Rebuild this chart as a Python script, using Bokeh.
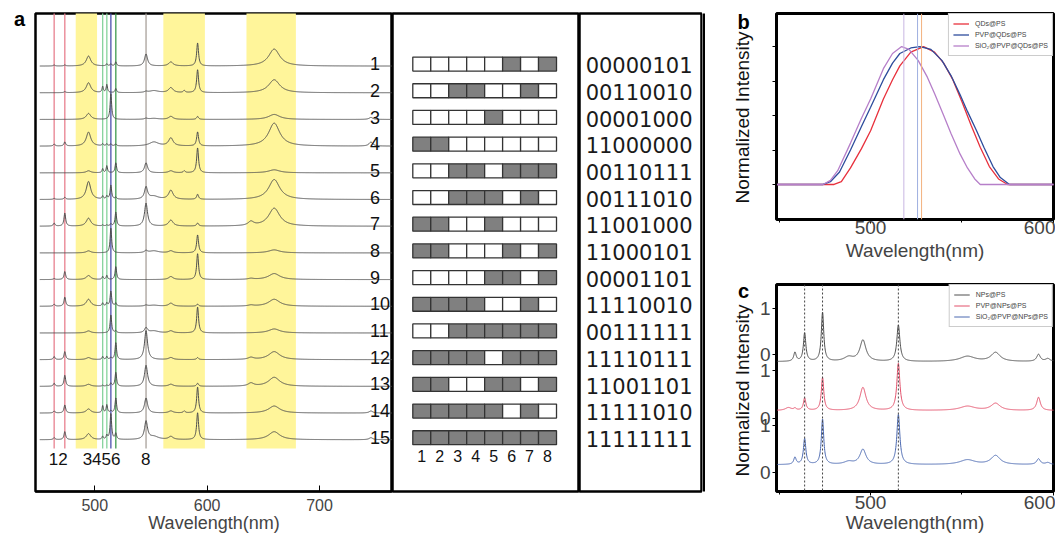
import numpy as np
from bokeh.plotting import figure
from bokeh.layouts import row, column
from bokeh.models import FixedTicker, Legend, LegendItem, Range1d, Span
from bokeh.core.properties import value
from bokeh.embed import file_html
from bokeh.resources import INLINE

SANS = "Liberation Sans"
PAGE_H = 536
FRAME_TOP, FRAME_BOTTOM = 13, 491

# ---------------- panel a data ----------------
peak_nm = [463.8, 473.3, 494.4, 507.0, 510.7, 514.3, 518.7, 545.6, 552.6, 567.7, 579.6, 591.5, 639.0, 659.7, 745.8]
peak_hwhm = [0.9, 0.9, 2.4, 0.7, 0.7, 0.8, 0.8, 1.6, 5.0, 2.4, 1.0, 1.0, 3.0, 6.0, 2.0]

spec_01 = [1, 1, 10, 0, 2, 2, 4, 12, 0, 4, 0, 23, 0, 17, 0]
spec_02 = [0, 1, 10, 6, 8, 0, 4, 1, 2, 5, 2, 23, 0, 13, 0]
spec_03 = [0, 0, 6, 0, 0, 26, 0, 1, 1, 3, 0, 3, 0, 5, 2]
spec_04 = [2, 4, 14, 2, 2, 2, 2, 0, 4, 8, 0, 14, 0, 23, 4]
spec_05 = [0, 0, 2, 4, 7, 0, 10, 10, 0, 2, 2, 25, 0, 3, 0]
spec_06 = [1, 2, 18, 3, 3, 14, 2, 12, 3, 9, 0, 5, 0, 20, 0]
spec_07 = [3, 13, 8, 1, 1, 2, 14, 23, 0, 6, 0, 3, 4, 18, 0]
spec_08 = [0, 0, 2, 0, 0, 25, 0, 2, 2, 2, 0, 18, 0, 3, 0]
spec_09 = [1, 8, 4, 3, 4, 0, 13, 0, 0, 3, 0, 26, 1, 6, 0]
spec_10 = [2, 9, 7, 3, 3, 15, 3, 1, 1, 3, 0, 2, 1, 7, 0]
spec_11 = [0, 0, 2, 0, 0, 18, 2, 5, 2, 2, 0, 26, 0, 4, 0]
spec_12 = [3, 8, 2, 3, 3, 2, 17, 29, 0, 2, 0, 2, 2, 8, 0]
spec_13 = [3, 11, 2, 1, 1, 3, 14, 21, 0, 2, 0, 3, 3, 9, 0]
spec_14 = [2, 8, 4, 7, 8, 2, 15, 15, 0, 2, 2, 26, 0, 7, 2]
spec_15 = [2, 8, 6, 3, 4, 26, 6, 18, 3, 3, 0, 27, 0, 8, 2]
spectra = [spec_01, spec_02, spec_03, spec_04, spec_05, spec_06, spec_07, spec_08,
           spec_09, spec_10, spec_11, spec_12, spec_13, spec_14, spec_15]
trace_labels = ["1", "2", "3", "4", "5", "6", "7", "8", "9", "10", "11", "12", "13", "14", "15"]

codes = ["00000101", "00110010", "00001000", "11000000", "00110111", "00111010", "11001000",
         "11000101", "00001101", "11110010", "00111111", "11110111", "11001101", "11111010", "11111111"]
code_positions = ["1", "2", "3", "4", "5", "6", "7", "8"]

band_lo = [483, 561, 635]
band_hi = [502, 598, 679]
marker_nm = [463.8, 473.3, 507.0, 510.7, 514.3, 518.7, 545.6]
marker_color = ["#e8808f", "#e8808f", "#86d39c", "#86d39c", "#4b4fae", "#3e9a4e", "#a8a09a"]
marker_text = ["12", "3456", "8"]
marker_text_nm = [467.5, 506.0, 545.4]

# ---------------- panel b data ----------------
b_red_nm = [448, 480, 484, 489, 495, 500, 507, 512, 516, 522, 529, 535, 540, 545, 550, 555, 560, 565, 570, 575, 601]
b_red_y = [0, 0, 0.02, 0.12, 0.26, 0.39, 0.62, 0.76, 0.86, 0.96, 1.0, 0.96, 0.88, 0.76, 0.60, 0.43, 0.27, 0.13, 0.04, 0, 0]
b_blue_nm = [448, 474, 478, 483, 489, 495, 500, 507, 512, 516, 522, 527, 533, 539, 544, 549, 553, 558, 562, 567, 571, 576, 601]
b_blue_y = [0, 0, 0.02, 0.09, 0.25, 0.42, 0.56, 0.76, 0.88, 0.95, 0.99, 1.0, 0.98, 0.90, 0.79, 0.65, 0.53, 0.39, 0.27, 0.13, 0.05, 0, 0]
b_purple_nm = [448, 474, 478, 482, 489, 495, 500, 507, 512, 517, 521, 526, 531, 535, 540, 544, 549, 553, 557, 560, 601]
b_purple_y = [0, 0, 0.03, 0.10, 0.30, 0.48, 0.62, 0.84, 0.95, 1.0, 0.98, 0.90, 0.78, 0.66, 0.50, 0.37, 0.22, 0.12, 0.04, 0, 0]
b_names = ["QDs@PS", "PVP@QDs@PS", "SiO\u2082@PVP@QDs@PS"]
b_peak_lines = [518.2, 525.7, 527.9]

# ---------------- panel c data ----------------
c_peak_nm = [455.0, 458.6, 463.9, 473.7, 488.0, 495.8, 515.2, 553.0, 568.4, 591.9, 597.0]
c_peak_hwhm = [2.0, 0.8, 0.8, 0.8, 3.0, 2.0, 1.0, 5.0, 3.0, 1.2, 1.5]
c_nps = [0.0, 0.19, 0.60, 1.04, 0.09, 0.45, 0.77, 0.11, 0.19, 0.15, 0.06]
c_pvp = [0.06, 0.04, 0.26, 0.70, 0.0, 0.49, 1.00, 0.09, 0.15, 0.28, 0.0]
c_sio2 = [0.0, 0.15, 0.55, 0.96, 0.06, 0.32, 1.06, 0.10, 0.19, 0.12, 0.04]
c_names = ["NPs@PS", "PVP@NPs@PS", "SiO\u2082@PVP@NPs@PS"]
c_marker_nm = [463.9, 473.7, 515.2]
c_tick_vals = [0, 1.0, 1.15, 2.17, 2.51, 3.49]
c_tick_text = ["0", "1", "0", "1", "0", "1"]

panel_letters = ["a", "b", "c"]
y_title = "Normalized Intensity"


def lorentz(wl, centers, widths, heights):
    out = np.zeros_like(wl)
    for c, w, h in zip(centers, widths, heights):
        out += h / (1.0 + ((wl - c) / w) ** 2)
    return out


def clean(p):
    p.grid.visible = False
    p.background_fill_color = "white"
    p.border_fill_color = "white"


def strip(width, x0):
    # frame shares the row's aligned frame: page rows FRAME_TOP..FRAME_BOTTOM
    s = figure(width=width, height=PAGE_H, x_range=Range1d(x0, x0 + width),
               y_range=Range1d(PAGE_H - FRAME_BOTTOM, PAGE_H - FRAME_TOP),
               output_backend="svg", toolbar_location=None,
               x_axis_location=None, y_axis_location=None,
               min_border_left=0, min_border_right=0,
               min_border_top=FRAME_TOP, min_border_bottom=PAGE_H - FRAME_BOTTOM)
    clean(s)
    s.outline_line_color = None
    return s


ROW_PX = 26.7
yr = Range1d(-1.94, 15.97)

# ---------------- letter strip for a ----------------
sa = strip(33, 0)
sa.text(x=[19], y=[PAGE_H - 18], text=[panel_letters[0]], text_font=value(SANS),
        text_font_size="20px", text_font_style="bold", text_align="center",
        text_baseline="middle", text_color="black")

# ---------------- a1: spectra ----------------
p1 = figure(width=359, height=PAGE_H, x_range=Range1d(447.2, 765.0), y_range=yr,
            output_backend="svg", toolbar_location=None, y_axis_location=None,
            min_border_left=2, min_border_right=0, min_border_top=FRAME_TOP,
            min_border_bottom=PAGE_H - FRAME_BOTTOM)
clean(p1)
p1.outline_line_color = "black"
p1.outline_line_width = 2.5
p1.quad(left=band_lo, right=band_hi, bottom=-0.33, top=16.5, fill_color="#fff59a",
        line_color=None)
p1.segment(x0=marker_nm, x1=marker_nm, y0=[-0.33] * len(marker_nm), y1=[16.5] * len(marker_nm),
           line_color=marker_color, line_width=1.3)
wl = np.arange(451.0, 765.0, 0.2)
for i, hs in enumerate(spectra):
    base = 14 - i
    p1.line(wl, base + lorentz(wl, peak_nm, peak_hwhm, hs) / ROW_PX, line_color="#4f4f4f",
            line_width=1)
p1.text(x=[745.0] * 15, y=[14 - i + 0.09 for i in range(15)], text=trace_labels,
        text_font=value(SANS), text_font_size="18px", text_align="left",
        text_baseline="alphabetic", text_color="#111111")
p1.text(x=marker_text_nm, y=[-0.74] * 3, text=marker_text, text_font=value(SANS),
        text_font_size="17px", text_align="center", text_baseline="middle", text_color="#111111")
p1.xaxis.ticker = FixedTicker(ticks=[500, 600, 700])
p1.xaxis.major_tick_in = 6
p1.xaxis.major_tick_out = 0
p1.xaxis.minor_tick_line_color = None
p1.xaxis.axis_line_width = 2
p1.xaxis.major_label_text_font = SANS
p1.xaxis.major_label_text_font_size = "16px"
p1.xaxis.major_label_standoff = 7
p1.xaxis.axis_label = "Wavelength(nm)"
p1.xaxis.axis_label_text_font = SANS
p1.xaxis.axis_label_text_font_size = "18px"
p1.xaxis.axis_label_text_font_style = "normal"
p1.xaxis.axis_label_standoff = -1

# ---------------- a2: barcodes ----------------
p2 = figure(width=187, height=PAGE_H, x_range=Range1d(-1.13, 9.28), y_range=yr,
            output_backend="svg", toolbar_location=None, x_axis_location=None,
            y_axis_location=None, min_border_left=0, min_border_right=0,
            min_border_top=FRAME_TOP, min_border_bottom=PAGE_H - FRAME_BOTTOM)
clean(p2)
p2.outline_line_color = "black"
p2.outline_line_width = 2.5
lefts, rights, bottoms, tops, fills = [], [], [], [], []
for i, code in enumerate(codes):
    c = 14 - i + 0.075
    for j, bit in enumerate(code):
        lefts.append(j)
        rights.append(j + 1)
        bottoms.append(c - 0.262)
        tops.append(c + 0.262)
        fills.append("#808080" if bit == "1" else "white")
p2.quad(left=lefts, right=rights, bottom=bottoms, top=tops, fill_color=fills,
        line_color="#333333", line_width=1.3)
p2.text(x=[j + 0.5 for j in range(8)], y=[-0.6] * 8, text=code_positions,
        text_font=value(SANS), text_font_size="16px", text_align="center",
        text_baseline="middle", text_color="#111111")

# ---------------- a3: codes ----------------
p3 = figure(width=123, height=PAGE_H, x_range=Range1d(0, 1), y_range=yr,
            output_backend="svg", toolbar_location=None, x_axis_location=None,
            y_axis_location=None, min_border_left=0, min_border_right=0,
            min_border_top=FRAME_TOP, min_border_bottom=PAGE_H - FRAME_BOTTOM)
clean(p3)
p3.outline_line_color = "black"
p3.outline_line_width = 2.5
p3.text(x=[0.05] * 15, y=[14 - i + 0.03 for i in range(15)], text=codes,
        text_font=value("DejaVu Sans"), text_font_size="21px", text_align="left",
        text_baseline="middle", text_color="#1a1a1a")

# ---------------- strip: right border of a, b / c letters and y titles ----------------
sbc = strip(54, 702)
sbc.segment(x0=[702], x1=[702], y0=[PAGE_H - FRAME_BOTTOM - 1], y1=[PAGE_H - FRAME_TOP + 1],
            line_color="black", line_width=5)
sbc.text(x=[743, 743], y=[PAGE_H - 21, PAGE_H - 290], text=panel_letters[1:],
         text_font=value(SANS), text_font_size="20px", text_font_style="bold",
         text_align="center", text_baseline="middle", text_color="black")
sbc.text(x=[742, 742], y=[PAGE_H - 117, PAGE_H - 390], text=[y_title, y_title],
         angle=np.pi / 2, text_font=value(SANS), text_font_size="19px",
         text_align="center", text_baseline="middle", text_color="#111111")


def style_small(p):
    clean(p)
    p.outline_line_color = "black"
    p.outline_line_width = 3
    p.xaxis.ticker = FixedTicker(ticks=[500, 600], minor_ticks=[450, 550])
    p.xaxis.major_tick_in = 0
    p.xaxis.major_tick_out = 4
    p.xaxis.minor_tick_in = 0
    p.xaxis.minor_tick_out = 3
    p.xaxis.major_label_text_font = SANS
    p.xaxis.major_label_text_font_size = "19px"
    p.xaxis.axis_label = "Wavelength(nm)"
    p.xaxis.axis_label_text_font = SANS
    p.xaxis.axis_label_text_font_size = "19px"
    p.xaxis.axis_label_text_font_style = "normal"
    p.yaxis.major_tick_in = 0
    p.yaxis.major_tick_out = 4
    p.yaxis.minor_tick_line_color = None
    p.yaxis.major_label_text_font = SANS
    p.yaxis.major_label_text_font_size = "19px"


def style_legend(p, items):
    lg = Legend(items=items, location="top_right", margin=0, padding=4, spacing=0,
                label_text_font=SANS, label_text_font_size="7px", label_height=11,
                glyph_height=11, glyph_width=16, label_standoff=6,
                border_line_color="#9a9a9a", border_line_width=1,
                background_fill_color="white", background_fill_alpha=1)
    p.add_layout(lg)


X_END = 600.1

# ---------------- b ----------------
pb = figure(width=299, height=266, x_range=Range1d(448.5, X_END), y_range=Range1d(-0.254, 1.24),
            output_backend="svg", toolbar_location=None,
            min_border_left=20, min_border_right=2, min_border_top=13, min_border_bottom=47)
style_small(pb)
pb.xaxis.major_label_standoff = -3
pb.xaxis.axis_label_standoff = 3
pb.yaxis.ticker = FixedTicker(ticks=[0, 0.25, 0.5, 0.75, 1.0])
pb.yaxis.major_label_text_font_size = "1px"
pb.yaxis.major_label_text_color = None
pb.yaxis.major_label_standoff = 0
for xv, col in zip(b_peak_lines, ["#c9b6e2", "#9fb0e0", "#f3b27e"]):
    pb.add_layout(Span(location=xv, dimension="height", line_color=col, line_width=1))
rb1 = pb.line(b_red_nm, b_red_y, line_color="#e8303c", line_width=1.3)
rb2 = pb.line(b_blue_nm, b_blue_y, line_color="#2d4c9c", line_width=1.3)
rb3 = pb.line(b_purple_nm, b_purple_y, line_color="#b67fc9", line_width=1.3)
style_legend(pb, [LegendItem(label=b_names[0], renderers=[rb1]),
                  LegendItem(label=b_names[1], renderers=[rb2]),
                  LegendItem(label=b_names[2], renderers=[rb3])])

# ---------------- c ----------------
pc = figure(width=299, height=271, x_range=Range1d(448.5, X_END), y_range=Range1d(-0.40, 4.0),
            output_backend="svg", toolbar_location=None,
            min_border_left=20, min_border_right=2, min_border_top=18, min_border_bottom=46)
style_small(pc)
pc.xaxis.major_label_standoff = 0
pc.xaxis.axis_label_standoff = 0
pc.yaxis.ticker = FixedTicker(ticks=c_tick_vals)
pc.yaxis.major_label_overrides = {v: t for v, t in zip(c_tick_vals, c_tick_text)}
pc.yaxis.major_label_standoff = 2
for xv in c_marker_nm:
    pc.add_layout(Span(location=xv, dimension="height", line_color="#444444", line_width=1,
                       line_dash="2 2"))
wlc = np.arange(448.5, 601.0, 0.1)
rc1 = pc.line(wlc, 2.36 + lorentz(wlc, c_peak_nm, c_peak_hwhm, c_nps), line_color="#4f4f4f", line_width=1)
rc2 = pc.line(wlc, 1.32 + lorentz(wlc, c_peak_nm, c_peak_hwhm, c_pvp), line_color="#e2506a", line_width=1)
rc3 = pc.line(wlc, 0.17 + lorentz(wlc, c_peak_nm, c_peak_hwhm, c_sio2), line_color="#4a68b0", line_width=1)
style_legend(pc, [LegendItem(label=c_names[0], renderers=[rc1]),
                  LegendItem(label=c_names[1], renderers=[rc2]),
                  LegendItem(label=c_names[2], renderers=[rc3])])

layout = row(sa, p1, p2, p3, sbc, column(pb, pc, spacing=0), spacing=0)
open("out.html", "w").write(file_html(layout, INLINE))
